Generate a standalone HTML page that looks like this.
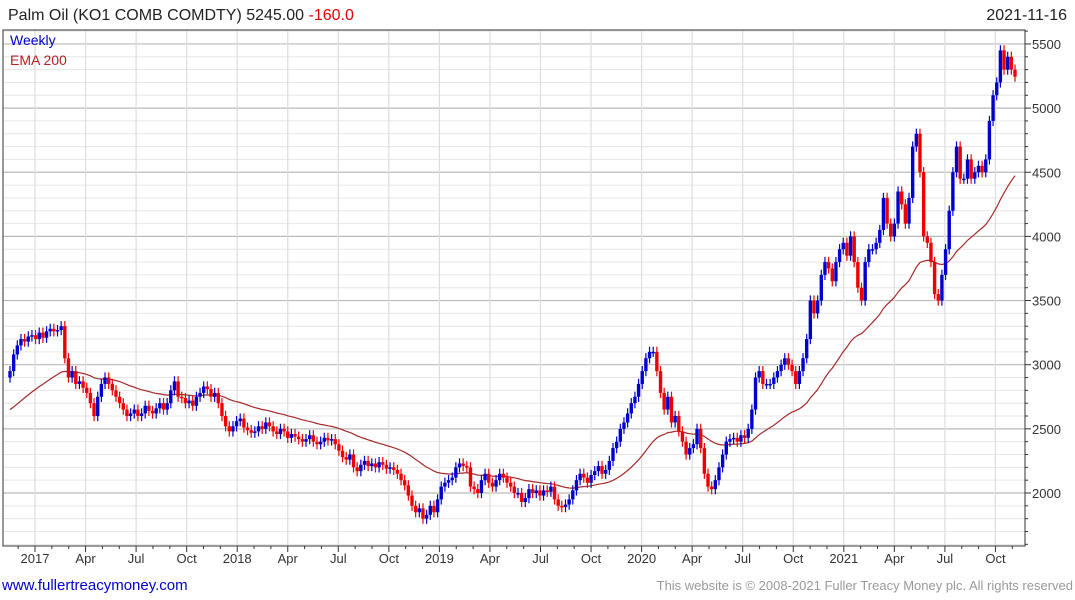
<!DOCTYPE html>
<html><head><meta charset="utf-8"><style>
body{margin:0;background:#fff;font-family:"Liberation Sans",sans-serif;}
#wrap{position:relative;width:1075px;height:600px;overflow:hidden}
</style></head><body>
<div id="wrap">
<svg id="chart" width="1075" height="600" xmlns="http://www.w3.org/2000/svg">
<text x="8" y="20" font-size="16" fill="#222">Palm Oil (KO1 COMB COMDTY) 5245.00 <tspan fill="#e00000">-160.0</tspan></text>
<text x="1067" y="20" font-size="16" fill="#222" text-anchor="end">2021-11-16</text>
<g id="grid"></g>
<g id="ema"></g>
<g id="candles"></g>
<rect x="3" y="30" width="1022" height="516" fill="none" stroke="#333" stroke-width="1"/>
<g id="axes"></g>
<text x="10" y="45" font-size="14" fill="#0000cc">Weekly</text>
<text x="10" y="65" font-size="14" fill="#b22222">EMA 200</text>
<text x="2" y="590" font-size="15" fill="#0000cc">www.fullertreacymoney.com</text>
<text x="1073" y="590" font-size="13" fill="#999" text-anchor="end">This website is © 2008-2021 Fuller Treacy Money plc. All rights reserved</text>
</svg>
</div>
<script>
const closes = [2950,3080,3150,3200,3180,3220,3230,
3200,3250,3210,3260,3280,3260,3270,3300,3050,2900,2950,2850,2870,2820,2780,
2700,2600,2750,2850,2900,2850,2800,2750,2700,2650,2600,2620,2650,2600,2620,2680,
2640,2620,2660,2700,2650,2700,2800,2870,2750,2740,2700,2720,2680,2750,2780,
2830,2810,2750,2780,2700,2600,2520,2480,2520,2560,2580,2510,2490,2470,
2480,2520,2500,2550,2520,2480,2460,2500,2480,2430,2460,2440,2420,2400,
2420,2450,2400,2380,2400,2430,2410,2420,2380,2330,2280,2260,2300,
2200,2170,2220,2250,2210,2230,2200,2240,2220,2190,2200,2180,2150,2100,
2060,1980,1900,1850,1880,1800,1830,1900,1850,1950,2050,2080,2100,
2120,2200,2230,2210,2200,2050,2030,2000,2100,2150,2080,2050,2100,2150,
2120,2080,2050,2000,2000,1930,1960,2030,2000,2020,1980,2020,2010,2050,
1950,1900,1890,1910,1950,2020,2100,2150,2120,2080,2140,2170,2210,2150,
2180,2250,2350,2400,2500,2550,2620,2700,2750,2850,2950,3050,3100,
3100,2950,2780,2650,2750,2550,2600,2480,2400,2300,2350,2380,2500,
2350,2150,2050,2030,2100,2200,2300,2400,2420,2430,2400,2450,2430,
2500,2650,2900,2950,2850,2850,2850,2900,2950,3000,3050,3000,2950,2850,
2950,3050,3200,3500,3400,3500,3700,3800,3750,3650,3800,3900,3950,3850,
4000,3800,3600,3500,3800,3900,3900,3950,4050,4300,4100,4000,4100,
4350,4250,4100,4300,4700,4800,4500,4000,3950,3800,3550,3500,3700,
3900,4200,4500,4700,4450,4450,4600,4450,4500,4550,4500,4600,4900,5100,
5200,5450,5300,5400,5300,5245];
const firstOpen = 2900;
const emaSeed = 2650;
const yTicks = [2000,2500,3000,3500,4000,4500,5000,5500];
const xTickLabels = ["2017","Apr","Jul","Oct","2018","Apr","Jul","Oct","2019","Apr","Jul","Oct","2020","Apr","Jul","Oct","2021","Apr","Jul","Oct"];
const xTickMonths = [0,3,6,9,12,15,18,21,24,27,30,33,36,39,42,45,48,51,54,57];
const wick = 40;

const NS="http://www.w3.org/2000/svg";
const L=3,R=1025,T=30,B=546;
const yS=p=>493-(p-2000)*0.1283;
const n=closes.length;
const x0=10,x1=1015;
const xS=i=>x0+(x1-x0)*i/(n-1);
const xM=m=>35+m*16.85;
function mk(t,a,parent){const e=document.createElementNS(NS,t);for(const k in a)e.setAttribute(k,a[k]);parent.appendChild(e);return e;}
const grid=document.getElementById('grid'),axes=document.getElementById('axes');
for(let p=1600;p<=5600;p+=100){const y=yS(p);if(y<T||y>B)continue;
 const major=p%500===0;
 const g=mk('line',{x1:L,x2:R,y1:y,y2:y,stroke:major?'#bbb':'#e6e6e6','stroke-width':major?1.2:1},grid);
 
 
 const tk=mk('line',{x1:R,x2:R+(major?6:3),y1:y,y2:y,stroke:'#333'},axes);
 
 
}
yTicks.forEach(p=>{const t=mk('text',{x:1032,y:yS(p)+5,'font-size':13,fill:'#333'},axes);t.textContent=p;
 
 });
xTickMonths.forEach((m,i)=>{const x=xM(m);
 const g=mk('line',{x1:x,x2:x,y1:T,y2:B,stroke:'#ddd','stroke-width':1.2},grid);
 
 
 const t=mk('text',{x:x,y:563,'font-size':13,fill:'#333','text-anchor':'middle'},axes);t.textContent=xTickLabels[i];
 
 });
for(let m=-2;m<=60;m++){const x=xM(m);if(x<L||x>R)continue;
 const tk=mk('line',{x1:x,x2:x,y1:B,y2:B+(m%3===0?6:3),stroke:'#333'},axes);
 
 }
let e=emaSeed,pts=[];const a=2/41;
closes.forEach((c,i)=>{if(i>0)e=e+a*(c-e);pts.push(xS(i).toFixed(1)+','+yS(e).toFixed(1));});
const pl=mk('polyline',{points:pts.join(' '),fill:'none',stroke:'#a52a2a','stroke-width':1.2},document.getElementById('ema'));


const cg=document.getElementById('candles');
closes.forEach((c,i)=>{const o=i?closes[i-1]:firstOpen;const up=c>=o;const col=up?'#0000cc':'#ee0000';
 const x=xS(i);const hi=Math.max(o,c)+wick,lo=Math.min(o,c)-wick;
 const g=mk('g',{},cg);
 
 
 mk('line',{x1:x,x2:x,y1:yS(hi),y2:yS(lo),stroke:col,'stroke-width':1.2},g);
 const yt=yS(Math.max(o,c)),yb=yS(Math.min(o,c));
 mk('rect',{x:x-1.7,y:yt,width:3.4,height:Math.max(1.5,yb-yt),fill:col},g);
});
</script>
</body></html>
